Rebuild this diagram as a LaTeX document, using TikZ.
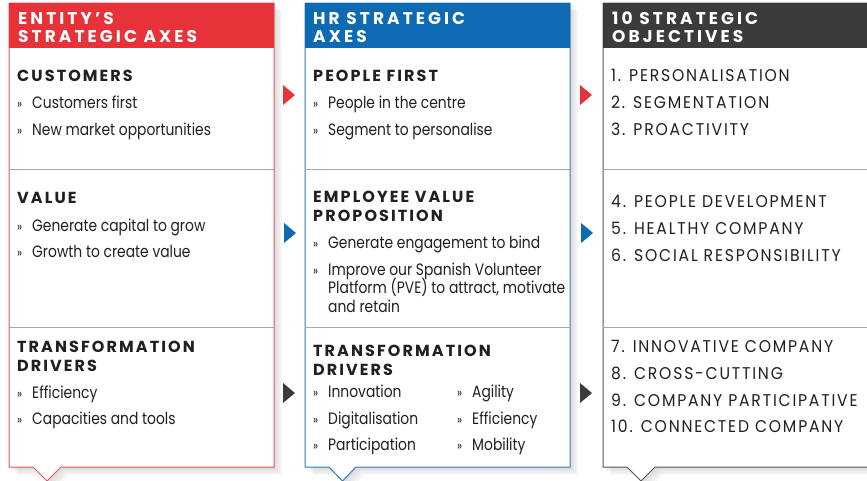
\documentclass[tikz,border=0pt]{standalone}
\usepackage{fontspec}
\setmainfont{Poppins}
\newfontfamily\bodyf{Poppins}[FakeStretch=0.84]
\newfontfamily\hdf{Poppins}[LetterSpace=18]
\newfontfamily\subf{Poppins}[LetterSpace=13]
\newfontfamily\objf{Poppins}[LetterSpace=10.5,FakeStretch=0.92]
\definecolor{entred}{HTML}{E7323A}
\definecolor{entredline}{HTML}{E8545A}
\definecolor{hrblue}{HTML}{0E6AB3}
\definecolor{hrblueline}{HTML}{2E7CC0}
\definecolor{objdark}{HTML}{3D3B3A}
\definecolor{objline}{HTML}{555555}
\definecolor{txt}{HTML}{231F20}
\definecolor{divgray}{HTML}{A8A8A8}
\tikzset{
  hdtext/.style={anchor=base west,inner sep=0pt,text=white,font=\hdf\bfseries\fontsize{17}{17}\selectfont},
  subtext/.style={anchor=base west,inner sep=0pt,text=txt,font=\subf\bfseries\fontsize{16}{16}\selectfont},
  itemtext/.style={anchor=base west,inner sep=0pt,text=txt,font=\bodyf\fontsize{16.5}{16.5}\selectfont},
  objtext/.style={anchor=base west,inner sep=0pt,text=txt,font=\objf\fontsize{17}{17}\selectfont},
  divline/.style={draw=divgray,line width=0.9pt},
  shadowlayer/.style={fill=black,opacity=0.035}
}
\newcommand\bul{\makebox[15pt][l]{\fontsize{13}{13}\selectfont »}}
\begin{document}
\begin{tikzpicture}[x=1pt,y=-1pt]
\useasboundingbox (0,0) rectangle (867,480);
% shadows
\foreach \s in {2,4,6,8}{
  \fill[shadowlayer,shift={(\s,\s)}] (9,3) -- (274,3) -- (274,467) -- (61,467) -- (47,481) -- (33,467) -- (9,467) -- cycle;
  \fill[shadowlayer,shift={(\s,\s)}] (305,3) -- (570,3) -- (570,467) -- (356,467) -- (342.5,481) -- (329,467) -- (305,467) -- cycle;
  \fill[shadowlayer,shift={(\s,\s)}] (603,3) -- (880,3) -- (880,467) -- (655,467) -- (641,481) -- (627,467) -- (603,467) -- cycle;
}
% column 1
\path[fill=white,draw=entredline,line width=1pt] (9,3) -- (274,3) -- (274,467) -- (61,467) -- (47,481) -- (33,467) -- (9,467) -- cycle;
\fill[entred] (9,3) rectangle (274,48);
\draw[divline] (9,169) -- (274,169);
\draw[divline] (9,327) -- (274,327);
% column 2
\path[fill=white,draw=hrblueline,line width=1pt] (305,3) -- (570,3) -- (570,467) -- (356,467) -- (342.5,481) -- (329,467) -- (305,467) -- cycle;
\fill[hrblue] (305,3) rectangle (570,48);
\draw[divline] (305,169) -- (570,169);
\draw[divline] (305,327) -- (570,327);
% column 3
\path[fill=white,draw=objline,line width=1pt] (603,3) -- (880,3) -- (880,467) -- (655,467) -- (641,481) -- (627,467) -- (603,467) -- cycle;
\fill[objdark] (603,3) rectangle (880,48);
\draw[divline] (603,169) -- (880,169);
\draw[divline] (603,327) -- (880,327);
% arrows
\fill[entred] (283,85) -- (295,95) -- (283,105) -- cycle;
\fill[entred] (580,85) -- (592,95) -- (580,105) -- cycle;
\fill[hrblue] (284,223) -- (296,233) -- (284,243) -- cycle;
\fill[hrblue] (581,223) -- (593,233) -- (581,243) -- cycle;
\fill[objdark] (283,383) -- (295,393) -- (283,403) -- cycle;
\fill[objdark] (580,383) -- (592,393) -- (580,403) -- cycle;
% column 1 texts
\node[hdtext] (h1a) at (18,24) {ENTITY’S};
\node[hdtext] (h1b) at (18,42.7) {STRATEGIC AXES};
\node[subtext] (s11) at (17,81) {CUSTOMERS};
\node[itemtext] (i111) at (17,108) {\bul Customers first};
\node[itemtext] (i112) at (17,135) {\bul New market opportunities};
\node[subtext] (s12) at (17,203) {VALUE};
\node[itemtext] (i121) at (17,231) {\bul Generate capital to grow};
\node[itemtext] (i122) at (17,257) {\bul Growth to create value};
\node[subtext] (s13a) at (17,352) {TRANSFORMATION};
\node[subtext] (s13b) at (17,371) {DRIVERS};
\node[itemtext] (i131) at (17,398) {\bul Efficiency};
\node[itemtext] (i132) at (17,424) {\bul Capacities and tools};
% column 2 texts
\node[hdtext] (h2a) at (313,24) {HR STRATEGIC};
\node[hdtext] (h2b) at (313,42.7) {AXES};
\node[subtext] (s21) at (313,81) {PEOPLE FIRST};
\node[itemtext] (i211) at (313,108) {\bul People in the centre};
\node[itemtext] (i212) at (313,135) {\bul Segment to personalise};
\node[subtext] (s22a) at (313,202) {EMPLOYEE VALUE};
\node[subtext] (s22b) at (313,221.5) {PROPOSITION};
\node[itemtext] (i221) at (313,248) {\bul Generate engagement to bind};
\node[itemtext] (i222a) at (313,275) {\bul Improve our Spanish Volunteer};
\node[itemtext] (i222b) at (328,293.5) {Platform (PVE) to attract, motivate};
\node[itemtext] (i222c) at (328,312) {and retain};
\node[subtext] (s23a) at (313,356) {TRANSFORMATION};
\node[subtext] (s23b) at (313,375) {DRIVERS};
\node[itemtext] (i231) at (313,397) {\bul Innovation};
\node[itemtext] (i232) at (313,424) {\bul Digitalisation};
\node[itemtext] (i233) at (313,450) {\bul Participation};
\node[itemtext] (i234) at (457,397) {\bul Agility};
\node[itemtext] (i235) at (457,424) {\bul Efficiency};
\node[itemtext] (i236) at (457,450) {\bul Mobility};
% column 3 texts
\node[hdtext] (h3a) at (612,24.5) {10 STRATEGIC};
\node[hdtext] (h3b) at (612,42.5) {OBJECTIVES};
\node[objtext] (o1) at (611,81) {1. PERSONALISATION};
\node[objtext] (o2) at (611,108) {2. SEGMENTATION};
\node[objtext] (o3) at (611,135) {3. PROACTIVITY};
\node[objtext] (o4) at (611,207) {4. PEOPLE DEVELOPMENT};
\node[objtext] (o5) at (611,234) {5. HEALTHY COMPANY};
\node[objtext] (o6) at (611,261) {6. SOCIAL RESPONSIBILITY};
\node[objtext] (o7) at (611,352) {7. INNOVATIVE COMPANY};
\node[objtext] (o8) at (611,379) {8. CROSS-CUTTING};
\node[objtext] (o9) at (611,406) {9. COMPANY PARTICIPATIVE};
\node[objtext] (o10) at (611,432) {10. CONNECTED COMPANY};
\end{tikzpicture}
\end{document}
